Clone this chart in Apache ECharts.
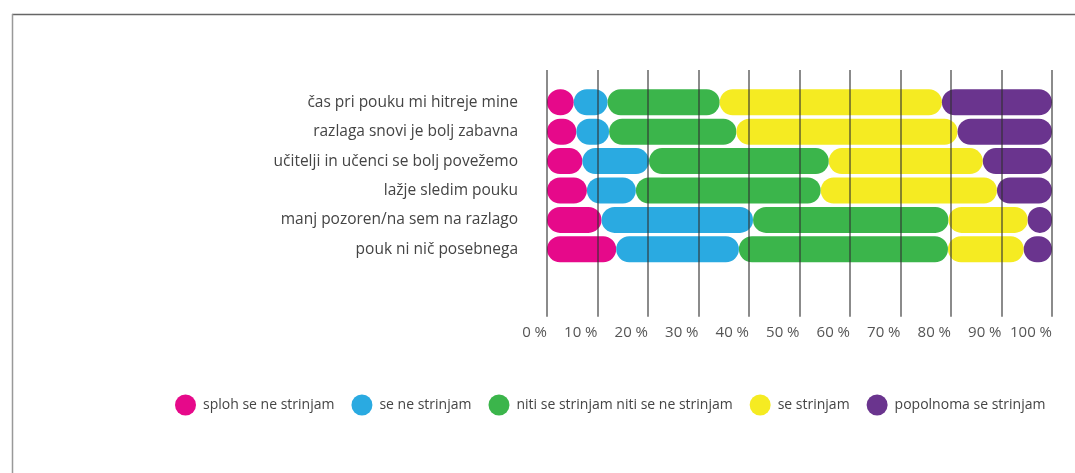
<!DOCTYPE html>
<html>
<head>
<meta charset="utf-8">
<script src="https://cdn.jsdelivr.net/npm/echarts@6/dist/echarts.min.js"></script>
<style>
  html, body { margin: 0; padding: 0; background: #fff; }
  #chart { width: 1075px; height: 473px; }
</style>
</head>
<body>
<div id="chart"></div>
<script>
// Statements (top to bottom)
const categories = [
  'čas pri pouku mi hitreje mine',
  'razlaga snovi je bolj zabavna',
  'učitelji in učenci se bolj povežemo',
  'lažje sledim pouku',
  'manj pozoren/na sem na razlago',
  'pouk ni nič posebnega'
];

// Share of answers per statement, in %
const splohSeNeStrinjam = [5.3, 5.8, 7.0, 7.9, 10.8, 13.7];
const seNeStrinjam      = [6.7, 6.5, 13.2, 9.7, 30.0, 24.3];
const nitiNiti          = [22.2, 25.2, 35.6, 36.6, 38.7, 41.4];
const seStrinjam        = [44.0, 43.8, 30.5, 34.9, 15.7, 15.0];
const popolnoma         = [21.8, 18.7, 13.7, 10.9, 4.8, 5.6];

const seriesNames = [
  'sploh se ne strinjam',
  'se ne strinjam',
  'niti se strinjam niti se ne strinjam',
  'se strinjam',
  'popolnoma se strinjam'
];
const seriesData = [splohSeNeStrinjam, seNeStrinjam, nitiNiti, seStrinjam, popolnoma];
const colors = ['#E6098A', '#2AAAE1', '#3BB54B', '#F5EB22', '#6A348E'];

const FONT = '"Open Sans", "Noto Sans", sans-serif';

const chart = echarts.init(document.getElementById('chart'), null, { renderer: 'canvas' });

chart.setOption({
  backgroundColor: '#ffffff',
  animation: false,
  color: colors,
  textStyle: { fontFamily: FONT },
  graphic: [
    { type: 'line', shape: { x1: 12, y1: 14.5, x2: 1075, y2: 14.5 },
      style: { stroke: '#666', lineWidth: 1.5 } },
    { type: 'line', shape: { x1: 12.5, y1: 14, x2: 12.5, y2: 473 },
      style: { stroke: '#999', lineWidth: 1.5 } }
  ],
  legend: {
    left: 175,
    top: 394.5,
    padding: 0,
    icon: 'circle',
    itemWidth: 21,
    itemHeight: 21,
    itemGap: 17,
    textStyle: { fontFamily: FONT, fontSize: 14, color: '#444', padding: [0, 0, 0, 2] },
    data: seriesNames
  },
  grid: [
    // bars
    { left: 547, right: 23, top: 87.6, height: 176.4, containLabel: false },
    // percentage scale with vertical guide lines
    { left: 547, right: 23, top: 70, height: 246.7, containLabel: false }
  ],
  xAxis: [
    { gridIndex: 0, type: 'value', min: 0, max: 100, show: false },
    {
      gridIndex: 1, type: 'value', min: 0, max: 100, interval: 10, z: 10,
      axisLine: { show: false },
      axisTick: { show: false },
      splitLine: { show: true, lineStyle: { color: 'rgba(50,50,50,0.75)', width: 1.5 } },
      axisLabel: {
        formatter: '{value} %',
        align: 'right',
        margin: 9,
        fontFamily: FONT,
        fontSize: 15,
        color: '#555'
      }
    }
  ],
  yAxis: [
    {
      gridIndex: 0, type: 'category', data: categories, inverse: true,
      axisLine: { show: false },
      axisTick: { show: false },
      splitLine: { show: false },
      axisLabel: { margin: 29, fontFamily: FONT, fontSize: 15.5, color: '#444' }
    },
    { gridIndex: 1, type: 'value', show: false, min: 0, max: 1 }
  ],
  series: seriesNames.map((name, i) => ({
    name: name,
    type: 'bar',
    stack: 'total',
    xAxisIndex: 0,
    yAxisIndex: 0,
    barWidth: 26,
    itemStyle: { color: colors[i], borderRadius: 13 },
    data: seriesData[i]
  }))
});
</script>
</body>
</html>
